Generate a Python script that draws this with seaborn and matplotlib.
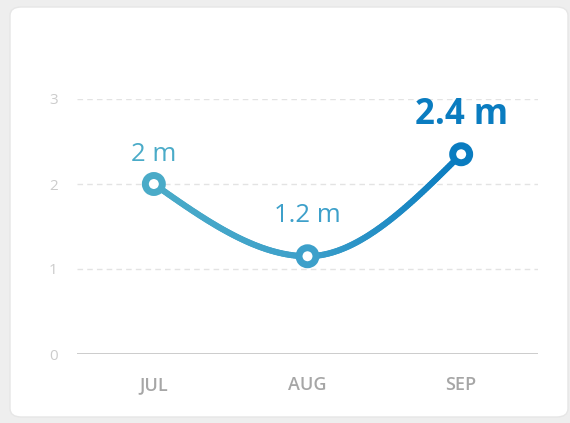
import numpy as np
import matplotlib.pyplot as plt
import matplotlib.colors as mcolors
from matplotlib.patches import FancyBboxPatch
from matplotlib.collections import LineCollection
from matplotlib.bezier import BezierSegment
import seaborn as sns

months = ["JUL", "AUG", "SEP"]
depth = [2.0, 1.15, 2.35]
depth_labels = ["2 m", "1.2 m", "2.4 m"]
y_ticks = [0, 1, 2, 3]

COLOR_START = "#4aabc8"
COLOR_END = "#0a7cc0"

sns.set_theme(style="white")
plt.rcParams["font.family"] = ["Open Sans", "DejaVu Sans"]

fig = plt.figure(figsize=(5.7, 4.23), dpi=100)
fig.patch.set_facecolor("#eeeeee")

# card background (behind the axes)
card = FancyBboxPatch((10 / 570, 6 / 423), 558 / 570, 410 / 423,
                      boxstyle="round,pad=0,rounding_size=0.02",
                      transform=fig.transFigure, facecolor="white",
                      edgecolor="#e6e6e6", linewidth=1.0, zorder=-5)
fig.patches.append(card)

ax = fig.add_axes([77 / 570, 69 / 423, 461 / 570, 255 / 423])
ax.set_facecolor("none")

x = np.arange(len(months))
y = np.array(depth)

# monotone-x smooth curve, built as cubic bezier segments
sec = np.diff(y) / np.diff(x)
tan = np.zeros(len(y))
for i in range(1, len(y) - 1):
    if sec[i - 1] * sec[i] > 0:
        tan[i] = 2 / (1 / sec[i - 1] + 1 / sec[i])
tan[0] = (3 * sec[0] - tan[1]) / 2
tan[-1] = (3 * sec[-1] - tan[-2]) / 2

cmap = mcolors.LinearSegmentedColormap.from_list("depth", [COLOR_START, "#3da0ca", COLOR_END])
pts = []
for i in range(len(x) - 1):
    h = x[i + 1] - x[i]
    ctrl = np.array([[x[i], y[i]],
                     [x[i] + h / 3, y[i] + tan[i] * h / 3],
                     [x[i + 1] - h / 3, y[i + 1] - tan[i + 1] * h / 3],
                     [x[i + 1], y[i + 1]]])
    seg = BezierSegment(ctrl)
    pts.append(seg(np.linspace(0, 1, 80)))
pts = np.vstack(pts)
segs = np.stack([pts[:-1], pts[1:]], axis=1)
frac = (segs[:, :, 0].mean(axis=1) - x[0]) / (x[-1] - x[0])
lc = LineCollection(segs, colors=cmap(frac), linewidths=4.4, capstyle="round", zorder=3)
ax.add_collection(lc)

# markers
point_colors = [cmap(v) for v in (x - x[0]) / (x[-1] - x[0])]
sns.scatterplot(x=x, y=y, ax=ax, s=150, facecolor="white", edgecolor=point_colors,
                linewidth=5, zorder=4, legend=False)

# value labels
label_offsets = [12, 20, 15]
for i, (xi, yi, lab) in enumerate(zip(x, y, depth_labels)):
    last = i == len(x) - 1
    ax.annotate(lab, (xi, yi), xytext=(0, label_offsets[i]), textcoords="offset points",
                ha="center", va="bottom", fontsize=25 if last else 18.5,
                fontweight="bold" if last else "normal",
                color=COLOR_END if last else point_colors[i], zorder=5)

ax.set_xlim(-0.5, 2.5)
ax.set_ylim(0, 3)
ax.set_yticks(y_ticks)
ax.set_xticks(x)
ax.set_xticklabels(months)
for yt in y_ticks[1:]:
    ax.axhline(yt, color="#e3e3e3", linewidth=1, linestyle=(0, (4, 3)), zorder=1)
ax.axhline(0, color="#c4c4c4", linewidth=1.2, zorder=1)

for s in ax.spines.values():
    s.set_visible(False)
ax.tick_params(axis="y", length=0, pad=14, labelsize=11, labelcolor="#cccccc")
ax.tick_params(axis="x", length=0, pad=16, labelsize=13, labelcolor="#a6a6a6")
for t in ax.get_xticklabels():
    t.set_fontweight("semibold")
ax.set_xlabel("")
ax.set_ylabel("")

fig.savefig("out.png", dpi=100, facecolor=fig.get_facecolor())
